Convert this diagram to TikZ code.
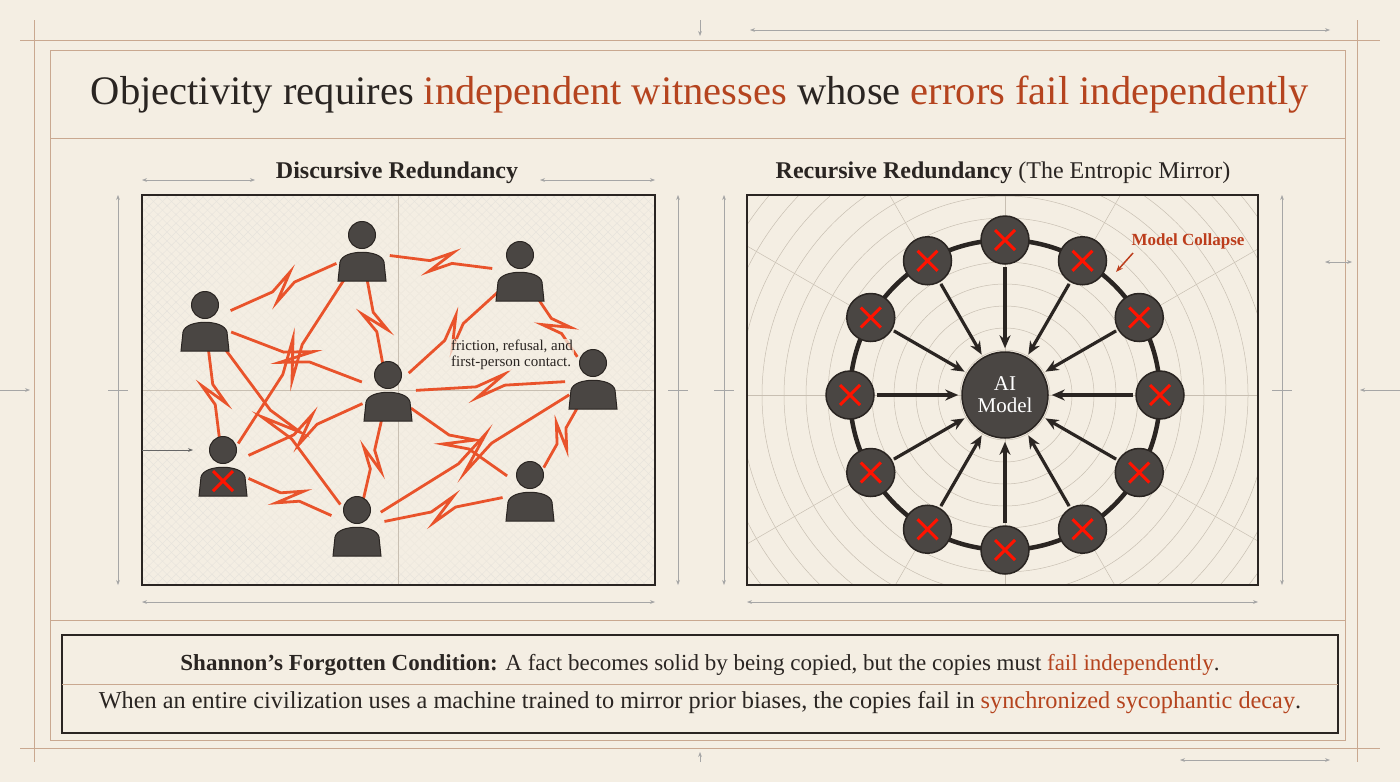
\documentclass[tikz,border=0pt]{standalone}
\usepackage{fontspec}
\setmainfont{Liberation Serif}
\usetikzlibrary{calc,arrows.meta}
\definecolor{bg}{HTML}{F4EEE3}
\definecolor{ink}{HTML}{2A2522}
\definecolor{or}{HTML}{B5441F}
\definecolor{bolt}{HTML}{E9532B}
\definecolor{fig}{HTML}{4A4643}
\definecolor{rule}{HTML}{C9A890}
\definecolor{grid}{HTML}{C8BFB2}
\tikzset{
  frame/.style={draw=rule,line width=0.8pt},
  dim/.style={draw=gray!70,line width=0.6pt,{Stealth[length=5pt]}-{Stealth[length=5pt]}},
  person/.pic={
    \fill[fig,draw=ink,line width=1pt] (-24,29) -- (-22,10) .. controls (-19,-3) and (19,-3) .. (22,10) -- (24,29) -- cycle;
    \fill[fig,draw=ink,line width=1pt] (0,-17) circle (13.5);
  },
  bolt/.style={draw=bolt,line width=2.8pt,line join=miter,shorten <=28pt,shorten >=28pt},
  rnode/.style={circle,fill=fig,draw=ink,line width=1.5pt,minimum size=48pt,inner sep=0pt},
  feed/.style={draw=ink,line width=3.2pt,-{Stealth[length=13pt,width=11pt]},shorten >=3pt,shorten <=2pt},
}
\newcommand{\zig}[2]{\draw[bolt] (#1) -- ($(#1)!0.43!(#2)$) -- ($(#1)!0.57!(#2)!11pt!90:(#2)$) -- ($(#1)!0.43!(#2)!11pt!-90:(#2)$) -- ($(#1)!0.57!(#2)$) -- (#2);}
\newcommand{\redx}[1]{\draw[red!85!orange,line width=3pt] ($(#1)+(-10,-10)$) -- ($(#1)+(10,10)$) ($(#1)+(-10,10)$) -- ($(#1)+(10,-10)$);}
\begin{document}
\begin{tikzpicture}[x=1pt,y=-1pt]
\useasboundingbox (0,0) rectangle (1400,782);
\fill[bg] (0,0) rectangle (1400,782);
% frame
\draw[frame] (20,40) -- (1380,40) (20,748) -- (1380,748) (34,20) -- (34,762) (1357,20) -- (1357,762);
\draw[frame] (50,50) rectangle (1345,740);
\draw[frame] (50,138) -- (1345,138) (50,620) -- (1345,620);
\draw[dim,-{Stealth[length=5pt]}] (700,20) -- (700,36);
\draw[dim,-{Stealth[length=5pt]}] (700,762) -- (700,752);
\draw[dim] (750,30) -- (1330,30);
\draw[dim] (1180,760) -- (1330,760);
\draw[dim,-{Stealth[length=5pt]}] (0,390) -- (30,390);
\draw[dim,{Stealth[length=5pt]}-] (1360,390) -- (1400,390);
\draw[dim] (1325,262) -- (1352,262);
% title
\node[font=\fontsize{40.5}{44}\selectfont,text=ink] (title) at (700,95)
 {Objectivity requires \textcolor{or}{independent witnesses} whose \textcolor{or}{errors fail independently}};
% panel headings
\node[font=\fontsize{24}{26}\selectfont\bfseries,text=ink] (h1) at (397,173) {Discursive Redundancy};
\node[font=\fontsize{24}{26}\selectfont,text=ink] (h2) at (1003,173) {\textbf{Recursive Redundancy} (The Entropic Mirror)};
% dimension lines
\draw[dim] (142,180) -- (255,180); \draw[dim] (540,180) -- (655,180);
\draw[dim] (142,602) -- (655,602); \draw[dim] (747,602) -- (1258,602);
\draw[dim] (118,195) -- (118,585); \draw[dim] (678,195) -- (678,585);
\draw[dim] (724,195) -- (724,585); \draw[dim] (1282,195) -- (1282,585);
\draw[gray!70,line width=0.6pt] (108,390) -- (128,390) (668,390) -- (688,390) (714,390) -- (734,390) (1272,390) -- (1292,390);
% left panel
\begin{scope}
\clip (142,195) rectangle (655,585);
\foreach \i in {0,9,...,900} {
  \draw[grid!45,line width=0.4pt] (142+\i-400,195) -- (142+\i,585);
  \draw[grid!45,line width=0.4pt] (142+\i-400,585) -- (142+\i,195);
}
\foreach \s in {1,...,12} \fill[bg,opacity=0.22] (398,390) ellipse ({150+8*\s} and {115+6*\s});
\draw[grid,line width=0.6pt] (398,195) -- (398,585) (142,390) -- (655,390);
\end{scope}
\draw[ink,line width=2pt] (142,195) rectangle (655,585);
\coordinate (p1) at (362,252);
\coordinate (p2) at (520,272);
\coordinate (p3) at (205,322);
\coordinate (p4) at (388,392);
\coordinate (p5) at (593,380);
\coordinate (p6) at (223,467);
\coordinate (p7) at (357,527);
\coordinate (p8) at (530,492);
\zig{p1}{p2}\zig{p3}{p1}\zig{p3}{p4}\zig{p3}{p6}\zig{p3}{p7}\zig{p1}{p4}\zig{p1}{p6}
\zig{p2}{p4}\zig{p2}{p5}\zig{p4}{p5}\zig{p4}{p6}\zig{p4}{p7}\zig{p4}{p8}\zig{p5}{p7}
\zig{p5}{p8}\zig{p6}{p7}\zig{p7}{p8}
\foreach \p in {p1,p2,p3,p4,p5,p6,p7,p8} {\pic at (\p) {person};}
\redx{$(p6)+(0,14)$}
\coordinate (xin) at (142,450);
\draw[gray!80!black,line width=0.6pt,-{Stealth[length=5pt]}] (xin) -- ($(p6)+(-30,-17)$);
\node[font=\fontsize{15}{16}\selectfont,text=ink,align=left,fill=bg,fill opacity=0.75,text opacity=1,inner sep=1pt] (fr) at (512,355) {friction, refusal, and\\first-person contact.};
% right panel
\coordinate (c) at (1005,395);
\begin{scope}
\clip (747,195) rectangle (1258,585);
\foreach \r in {45,67,...,440} \draw[grid,line width=0.5pt] (c) circle (\r);
\foreach \a in {0,30,...,330} \draw[grid,line width=0.5pt] (c) -- ++(\a:450);
\end{scope}
\draw[ink,line width=2pt] (747,195) rectangle (1258,585);
\draw[ink,line width=4.5pt] (c) circle (155);
\node[circle,fill=fig,draw=ink,line width=1.5pt,minimum size=86pt,inner sep=0pt,align=center,text=white,font=\fontsize{21}{22}\selectfont] (ai) at (c) {AI\\Model};
\foreach \a [count=\i] in {90,60,30,0,-30,-60,-90,-120,-150,180,150,120} {
  \node[rnode] (r\i) at ($(c)+(\a:155)$) {};
  \redx{r\i}
  \draw[feed] (r\i) -- (ai);
}
\node[font=\fontsize{17}{18}\selectfont\bfseries,text=or!90!red] (mc) at (1188,241) {Model Collapse};
\coordinate (mca) at (1133,253);
\draw[or!90!red,line width=1.5pt,-{Stealth[length=7pt]}] (mca) -- (1116,272);
% bottom box
\draw[ink,line width=1.8pt] (62,635) rectangle (1338,733);
\draw[rule,line width=0.6pt] (62,684) -- (1338,684);
\node[font=\fontsize{23}{25}\selectfont,text=ink] (b1) at (700,665) {\textbf{Shannon’s Forgotten Condition:} A fact becomes solid by being copied, but the copies must \textcolor{or}{fail independently}.};
\node[font=\fontsize{24.3}{26}\selectfont,text=ink] (b2) at (700,703) {When an entire civilization uses a machine trained to mirror prior biases, the copies fail in \textcolor{or}{synchronized sycophantic decay}.};
\end{tikzpicture}
\end{document}
